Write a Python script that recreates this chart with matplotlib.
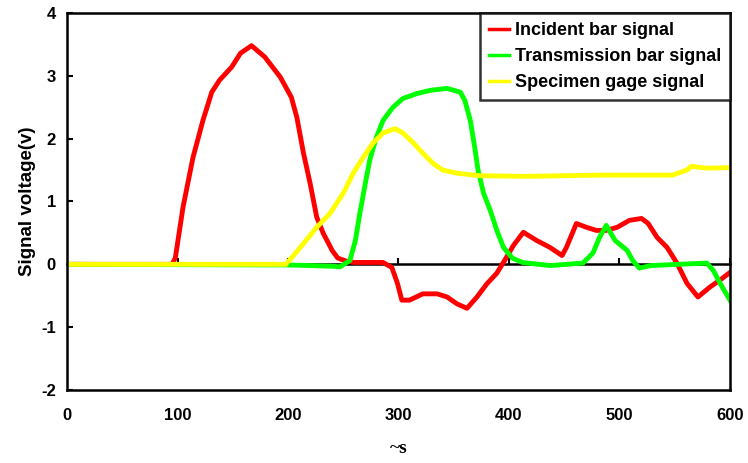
import matplotlib.pyplot as plt

# readings
red_x = [0, 95, 98, 105, 114, 123, 131, 138, 149, 157, 167, 179, 193, 203, 208, 214, 220, 226,
         232, 240, 245, 253, 260, 286, 294, 299, 303, 310, 322, 335, 344, 353, 362, 371, 380,
         389, 396, 404, 413, 425, 437, 448, 452, 461, 470, 479, 488, 498, 509, 520, 526, 534,
         543, 552, 561, 571, 582, 591, 600]
red_y = [0, 0, 0.1, 0.91, 1.70, 2.29, 2.74, 2.93, 3.14, 3.36, 3.48, 3.30, 2.98, 2.66, 2.34, 1.77,
         1.29, 0.75, 0.49, 0.22, 0.10, 0.05, 0.03, 0.03, -0.05, -0.30, -0.57, -0.57, -0.47, -0.47,
         -0.52, -0.63, -0.70, -0.52, -0.31, -0.14, 0.06, 0.30, 0.51, 0.38, 0.27, 0.14, 0.27, 0.65,
         0.59, 0.54, 0.54, 0.59, 0.70, 0.73, 0.65, 0.43, 0.27, 0.02, -0.30, -0.52, -0.36, -0.25,
         -0.13]

green_x = [0, 200, 240, 247, 256, 261, 265, 270, 274, 280, 286, 295, 304, 317, 329, 344, 356,
           360, 365, 369, 372, 377, 383, 389, 395, 403, 412, 437, 467, 476, 482, 488, 496, 507,
           512, 518, 528, 579, 585, 591, 600]
green_y = [0, -0.01, -0.03, -0.04, 0.06, 0.38, 0.81, 1.29, 1.66, 2.02, 2.29, 2.50, 2.64, 2.72,
           2.77, 2.80, 2.74, 2.61, 2.29, 1.86, 1.50, 1.13, 0.86, 0.54, 0.27, 0.10, 0.03, -0.02,
           0.02, 0.18, 0.43, 0.62, 0.38, 0.22, 0.06, -0.06, -0.02, 0.02, -0.10, -0.30, -0.57]

yellow_x = [0, 198, 202, 214, 226, 238, 250, 259, 268, 277, 286, 297, 304, 313, 322, 331, 340,
            353, 374, 416, 482, 548, 561, 565, 579, 600]
yellow_y = [0, 0, 0.08, 0.33, 0.59, 0.81, 1.13, 1.45, 1.70, 1.93, 2.09, 2.16, 2.09, 1.94, 1.77,
            1.61, 1.50, 1.45, 1.41, 1.40, 1.42, 1.42, 1.50, 1.56, 1.53, 1.54]

labels = ['Incident bar signal', 'Transmission bar signal', 'Specimen gage signal']
x_ticks = [0, 100, 200, 300, 400, 500, 600]
y_ticks = [-2, -1, 0, 1, 2, 3, 4]

plt.rcParams['font.family'] = ['Liberation Sans', 'DejaVu Sans']
plt.rcParams['font.weight'] = 'bold'
plt.rcParams['axes.unicode_minus'] = False

fig = plt.figure(figsize=(7.48, 4.63), dpi=100)
ax = fig.add_axes([0.0896, 0.1577, 0.8863, 0.8142])

ax.plot(red_x, red_y, color='#ff0000', lw=3.5, label=labels[0])
ax.plot(green_x, green_y, color='#00ff00', lw=3.5, label=labels[1])
ax.plot(yellow_x, yellow_y, color='#ffff00', lw=3.5, label=labels[2])

ax.set_xlim(0, 600)
ax.set_ylim(-2, 4)
ax.set_xticks(x_ticks)
ax.set_yticks(y_ticks)
for s in ax.spines.values():
    s.set_linewidth(1.8)
ax.tick_params(axis='x', length=0, pad=13, labelsize=12)
ax.tick_params(axis='y', direction='in', length=4, width=1.5, pad=8, labelsize=12)

# the axis line that crosses at zero, ticks pointing up
zero_ax = ax.secondary_xaxis(1 / 3)
zero_ax.set_xticks(x_ticks[1:])
zero_ax.tick_params(direction='in', length=4, width=1.5, labelbottom=False)
zero_ax.spines['bottom'].set_linewidth(1.8)
zero_ax.set_xticklabels([])

ax.set_ylabel('Signal voltage(v)', fontsize=13.5, fontweight='bold', labelpad=4)
ax.set_xlabel('~s', fontsize=14, fontweight='bold', family='Liberation Serif', labelpad=12)

leg = ax.legend(loc='upper right', borderaxespad=0, fontsize=13, frameon=True, fancybox=False,
                handlelength=1.1, handletextpad=0.3, labelspacing=0.5, borderpad=0.5)
leg.get_frame().set_edgecolor('black')
leg.get_frame().set_linewidth(1.8)
for h in leg.get_lines():
    h.set_linewidth(2.5)

fig.savefig('out.png', dpi=100)
